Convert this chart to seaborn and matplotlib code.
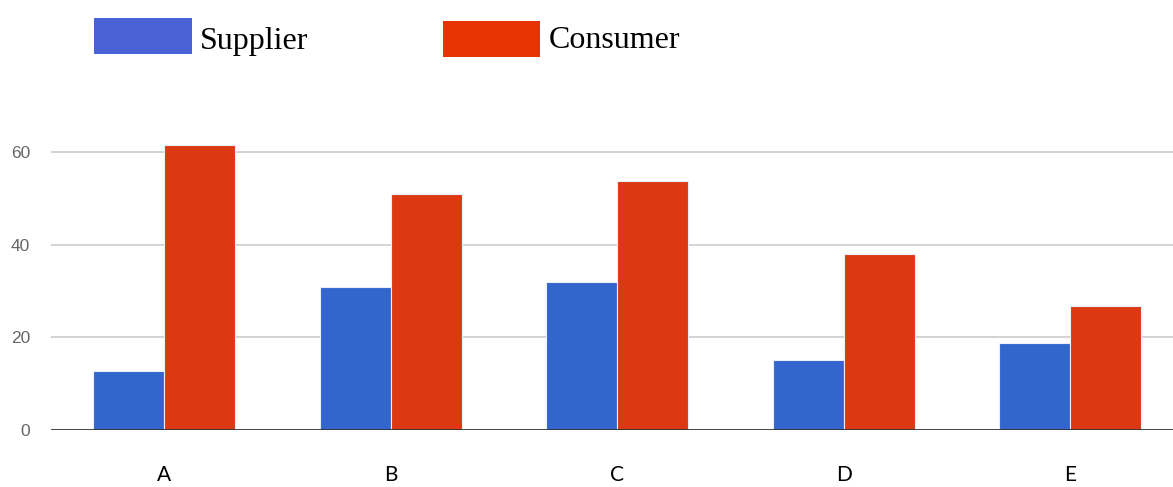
import matplotlib
matplotlib.use("Agg")
import matplotlib.pyplot as plt
from matplotlib.patches import Rectangle
import seaborn as sns
import pandas as pd

# Chart data
categories = ["A", "B", "C", "D", "E"]
supplier = [12.7, 30.9, 32.0, 15.1, 18.7]
consumer = [61.5, 50.9, 53.7, 38.0, 26.8]
series_names = ["Supplier", "Consumer"]
y_ticks = [0, 20, 40, 60]

bar_colors = ["#3366CC", "#DC3912"]
legend_colors = ["#4A62D6", "#E63300"]

df = pd.DataFrame({
    "category": categories * 2,
    "value": supplier + consumer,
    "series": [series_names[0]] * len(categories) + [series_names[1]] * len(categories),
})

sns.set_theme(style="white")
W, H = 1173, 487
fig = plt.figure(figsize=(W / 100, H / 100), dpi=100)

# Axes placement in pixel terms
left_px, right_px = 51, 1173
zero_px = 430
px_per_unit = (430 - 152) / 60.0
y_top = 65
top_px = zero_px - y_top * px_per_unit
ax = fig.add_axes([left_px / W, (H - zero_px) / H,
                   (right_px - left_px) / W, (zero_px - top_px) / H])

sns.barplot(data=df, x="category", y="value", hue="series",
            palette=bar_colors, width=0.627, gap=0.0,
            edgecolor="#e8eefa", linewidth=0.8, saturation=1,
            legend=False, ax=ax, zorder=3)

cat_w = 226.5
ax.set_xlim(-0.5, -0.5 + (right_px - left_px) / cat_w)
ax.set_ylim(0, y_top)
ax.set_yticks(y_ticks)
ax.set_yticklabels([str(t) for t in y_ticks], fontsize=12.5, color="#666666",
                   family="Liberation Sans")
ax.set_xticks(range(len(categories)))
ax.set_xticklabels(categories, fontsize=15, color="#000000", family="Lato")
ax.tick_params(axis="x", length=0, pad=25)
ax.tick_params(axis="y", length=0, pad=15)
ax.set_xlabel("")
ax.set_ylabel("")

for t in y_ticks[1:]:
    ax.axhline(t, color="#cccccc", linewidth=1.2, zorder=1)
ax.axhline(0, color="#333333", linewidth=2.0, zorder=4)
for s in ax.spines.values():
    s.set_visible(False)

# Legend drawn above the plot
legend_boxes = [(94, 18, 98, 36), (443, 21, 97, 36)]
legend_text_x = [200, 549]
for (x, y, w, h), col, name, tx in zip(legend_boxes, legend_colors, series_names, legend_text_x):
    fig.add_artist(Rectangle((x / W, (H - y - h) / H), w / W, h / H,
                             transform=fig.transFigure, color=col, lw=0))
    fig.text(tx / W, (H - 41) / H, name, fontsize=23, family="Liberation Serif",
             color="#000000", va="center", ha="left")

fig.savefig("out.png", dpi=100)
